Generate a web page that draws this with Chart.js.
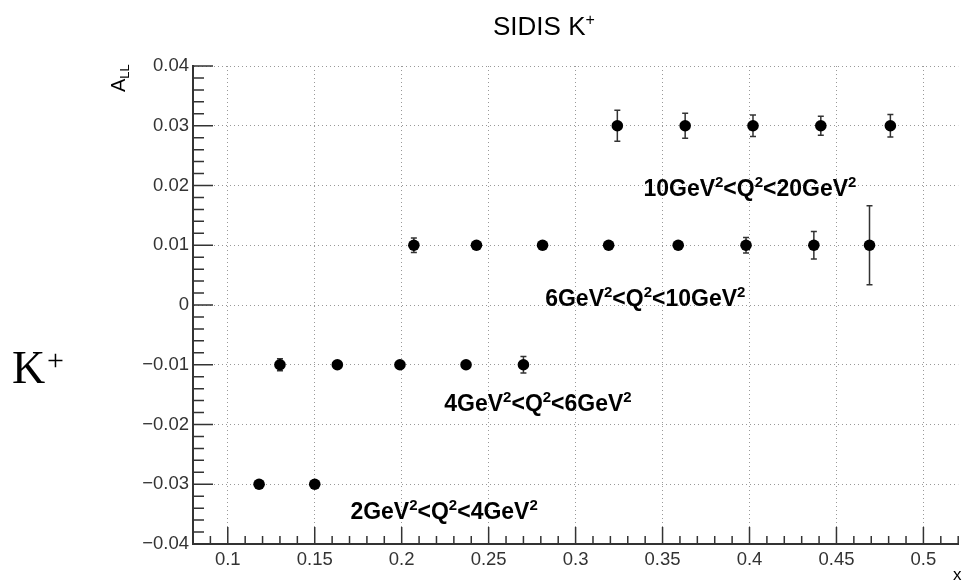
<!DOCTYPE html>
<html>
<head>
<meta charset="utf-8">
<script src="https://cdn.jsdelivr.net/npm/chart.js@4.4.0/dist/chart.umd.min.js"></script>
<style>
html, body { margin: 0; padding: 0; background: #fff; }
#wrap { position: relative; width: 964px; height: 582px; }
</style>
</head>
<body>
<div id="wrap"><canvas id="chart" width="964" height="582"></canvas></div>
<script>
// tick values
const xTicks = [0.1, 0.15, 0.2, 0.25, 0.3, 0.35, 0.4, 0.45, 0.5];
const yTicks = [-0.04, -0.03, -0.02, -0.01, 0, 0.01, 0.02, 0.03, 0.04];

// Q2 bins (A_LL vs x, with errors)
const binLabels = ['2GeV^2<Q^2<4GeV^2', '4GeV^2<Q^2<6GeV^2', '6GeV^2<Q^2<10GeV^2', '10GeV^2<Q^2<20GeV^2'];

const x1 = [0.118, 0.150];
const y1 = [-0.03, -0.03];
const e1 = [0.0003, 0.0003];

const x2 = [0.130, 0.163, 0.199, 0.237, 0.270];
const y2 = [-0.01, -0.01, -0.01, -0.01, -0.01];
const e2 = [0.0010, 0.0004, 0.0004, 0.0004, 0.0014];

const x3 = [0.207, 0.243, 0.281, 0.319, 0.359, 0.398, 0.437, 0.469];
const y3 = [0.01, 0.01, 0.01, 0.01, 0.01, 0.01, 0.01, 0.01];
const e3 = [0.0012, 0.0004, 0.0004, 0.0004, 0.0005, 0.0013, 0.0023, 0.0066];

const x4 = [0.324, 0.363, 0.402, 0.441, 0.481];
const y4 = [0.03, 0.03, 0.03, 0.03, 0.03];
const e4 = [0.0026, 0.0021, 0.0018, 0.0016, 0.0019];

// where the bin labels sit (data coords, left/baseline)
const labelSpots = [[0.1705, -0.0358], [0.2245, -0.0178], [0.2825, -0.0002], [0.339, 0.0182]];

const FONT = '"Liberation Sans", Arial, Helvetica, sans-serif';

function mkSet(xs, ys, es) {
    return {
        data: xs.map((x, i) => ({ x: x, y: ys[i], err: es[i] })),
        pointRadius: 5.8,
        pointBackgroundColor: '#000',
        pointBorderWidth: 0,
        showLine: false
    };
}

function fmt(v) {
    const r = +v.toFixed(3);
    if (r === 0) return '0';
    return (r < 0 ? '\u2212' : '') + String(Math.abs(r));
}

// draws "text^2" style labels, returns end x
function drawSup(ctx, str, x, y, size, bold, supScale) {
    const w = bold ? 'bold ' : '';
    const sc = supScale || 0.65;
    const parts = str.split('^');
    let cx = x;
    parts.forEach((p, i) => {
        let body = p;
        if (i > 0) {
            ctx.font = w + Math.round(size * sc) + 'px ' + FONT;
            ctx.fillText(p[0], cx, y - size * 0.4);
            cx += ctx.measureText(p[0]).width;
            body = p.slice(1);
        }
        ctx.font = w + size + 'px ' + FONT;
        ctx.fillText(body, cx, y);
        cx += ctx.measureText(body).width;
    });
    return cx;
}

const errorBars = {
    id: 'errorBars',
    beforeDatasetsDraw(chart) {
        const ctx = chart.ctx;
        const xs = chart.scales.x, ys = chart.scales.y;
        ctx.save();
        ctx.strokeStyle = '#333';
        ctx.lineWidth = 1.5;
        chart.data.datasets.forEach(ds => {
            ds.data.forEach(p => {
                const px = xs.getPixelForValue(p.x);
                const top = ys.getPixelForValue(p.y + p.err);
                const bot = ys.getPixelForValue(p.y - p.err);
                ctx.beginPath();
                ctx.moveTo(px, top); ctx.lineTo(px, bot);
                ctx.moveTo(px - 3, top); ctx.lineTo(px + 3, top);
                ctx.moveTo(px - 3, bot); ctx.lineTo(px + 3, bot);
                ctx.stroke();
            });
        });
        ctx.restore();
    }
};

const decorations = {
    id: 'decorations',
    afterDraw(chart) {
        const ctx = chart.ctx;
        const xs = chart.scales.x, ys = chart.scales.y;
        const area = chart.chartArea;
        ctx.save();
        // ticks pointing into the frame
        ctx.strokeStyle = '#333';
        ctx.lineWidth = 1.5;
        ctx.beginPath();
        for (let k = -20; k <= 20; k++) {
            const py = ys.getPixelForValue(k * 0.002);
            const len = k % 5 === 0 ? 20 : 11;
            ctx.moveTo(area.left, py); ctx.lineTo(area.left + len, py);
        }
        for (let k = 8; k <= 52; k++) {
            const px = xs.getPixelForValue(k * 0.01);
            const len = k % 5 === 0 ? 17 : 8;
            ctx.moveTo(px, area.bottom); ctx.lineTo(px, area.bottom - len);
        }
        ctx.stroke();

        ctx.fillStyle = '#000';
        ctx.textBaseline = 'alphabetic';
        ctx.textAlign = 'left';

        // title
        drawSup(ctx, 'SIDIS K^+', 493, 35, 26, false, 0.6);

        // y title A_LL
        ctx.save();
        ctx.translate(125, 92);
        ctx.rotate(-Math.PI / 2);
        ctx.font = '20px ' + FONT;
        ctx.fillText('A', 0, 0);
        const aw = ctx.measureText('A').width;
        ctx.font = '13px ' + FONT;
        ctx.fillText('LL', aw, 4);
        ctx.restore();

        // x title
        ctx.font = '17px ' + FONT;
        ctx.fillText('x', 953, 580);

        // bin labels
        binLabels.forEach((lab, i) => {
            const px = xs.getPixelForValue(labelSpots[i][0]);
            const py = ys.getPixelForValue(labelSpots[i][1]);
            drawSup(ctx, lab, px, py, 23, true, 0.65);
        });

        // big K+ on the left
        ctx.font = '46px "Liberation Serif", "Times New Roman", serif';
        ctx.fillText('K', 12, 383);
        ctx.font = '30px "Liberation Serif", "Times New Roman", serif';
        ctx.fillText('+', 47, 370);
        ctx.restore();
    }
};

new Chart(document.getElementById('chart'), {
    type: 'scatter',
    data: {
        datasets: [mkSet(x1, y1, e1), mkSet(x2, y2, e2), mkSet(x3, y3, e3), mkSet(x4, y4, e4)]
    },
    options: {
        responsive: false,
        animation: false,
        layout: { padding: { top: 66, right: 0, left: 0, bottom: 0 } },
        plugins: { legend: { display: false }, tooltip: { enabled: false } },
        scales: {
            x: {
                type: 'linear',
                min: 0.08,
                max: 0.52,
                afterFit(s) { s.height = 38; },
                afterBuildTicks(s) { s.ticks = xTicks.map(v => ({ value: v })); },
                grid: { color: '#999', lineWidth: 1, drawTicks: false },
                border: { display: true, color: '#333', width: 2, dash: [1, 3] },
                ticks: { padding: 5, color: '#333', font: { family: FONT, size: 18.5 }, callback: v => fmt(v) }
            },
            y: {
                type: 'linear',
                min: -0.04,
                max: 0.04,
                afterFit(s) { s.width = 193; },
                afterBuildTicks(s) { s.ticks = yTicks.map(v => ({ value: v })); },
                grid: { color: '#999', lineWidth: 1, drawTicks: false },
                border: { display: true, color: '#333', width: 2, dash: [1, 3] },
                ticks: { padding: 4, color: '#333', font: { family: FONT, size: 18.5 }, callback: v => fmt(v) }
            }
        }
    },
    plugins: [errorBars, decorations]
});
</script>
</body>
</html>
